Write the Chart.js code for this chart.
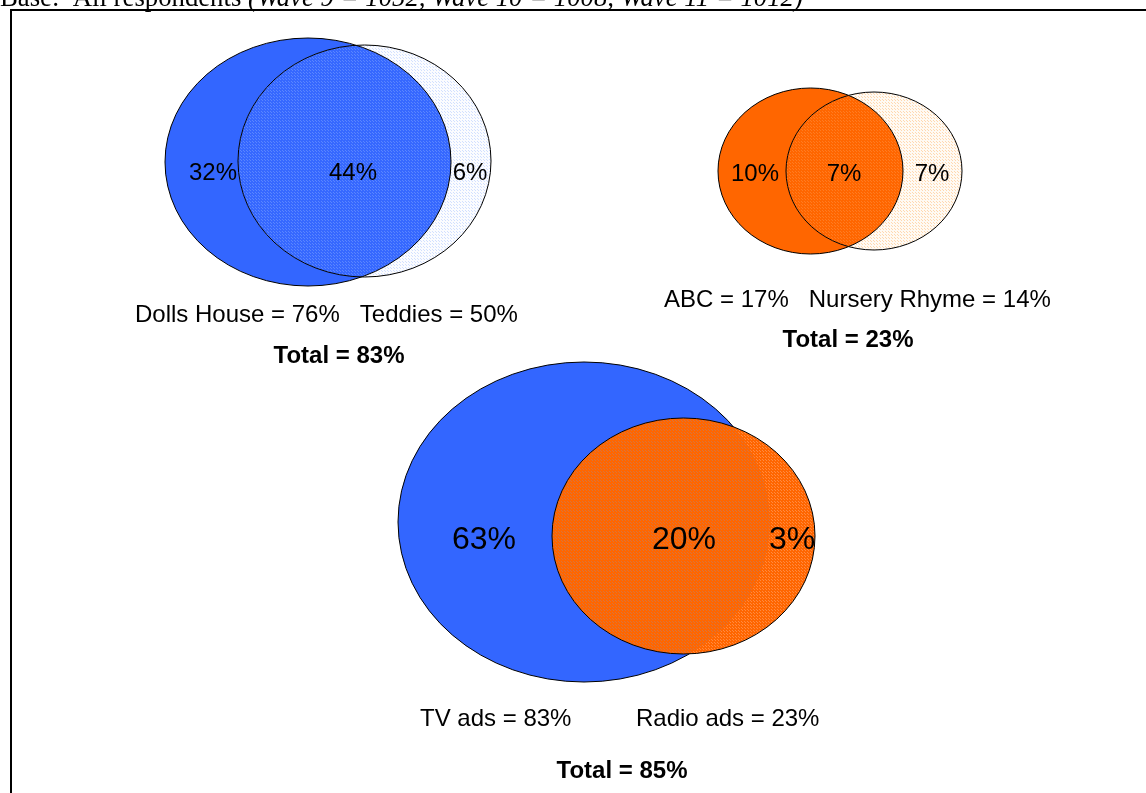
<!DOCTYPE html>
<html>
<head>
<meta charset="utf-8">
<script src="https://cdn.jsdelivr.net/npm/chart.js@4.4.1/dist/chart.umd.min.js"></script>
<style>
  html, body { margin: 0; padding: 0; background: #ffffff; }
  #wrap { position: relative; width: 1146px; height: 793px; }
  canvas { display: block; }
</style>
</head>
<body>
<div id="wrap"><canvas id="c" width="1146" height="793"></canvas></div>
<script>
// ---------------- DATA ----------------
const headerText = 'Base:  All respondents ';
const headerItalic = '(Wave 9 = 1052, Wave 10 = 1008, Wave 11 = 1012)';
const setNames = ['Dolls House', 'Teddies', 'ABC', 'Nursery Rhyme', 'TV ads', 'Radio ads'];
const setTotals = [76, 50, 17, 14, 83, 23];
// regions per diagram: [only A, A and B, only B]
const toysRegions = [32, 44, 6];
const songsRegions = [10, 7, 7];
const adsRegions = [63, 20, 3];
const groupTotals = [83, 23, 85];

// ---------------- LAYOUT (pixel-space scale units) ----------------
const ellipses = [
  { cx: 308, cy: 162, rx: 143, ry: 124 },
  { cx: 364.5, cy: 161, rx: 126.5, ry: 116 },
  { cx: 810.5, cy: 171, rx: 92.5, ry: 83 },
  { cx: 874, cy: 171, rx: 88, ry: 79 },
  { cx: 584, cy: 522, rx: 186, ry: 160 },
  { cx: 683.5, cy: 536, rx: 131.5, ry: 118 }
];
// style per diagram: A fill, B fill [base, dot], overlap [base, dot], whether A's edge shows through B
const diagramStyles = [
  { a: '#3366FF', b: ['#FBFCFF', '#D2E0FF'], ab: ['#3668FF', '#5A86FF'], edgeThrough: true },
  { a: '#FF6600', b: ['#FFFAF3', '#FFD8B0'], ab: ['#FF6600', '#FF7C22'], edgeThrough: true },
  { a: '#3366FF', b: ['#FF6600', '#FF8A40'], ab: ['#FF6600', '#D8743C'], edgeThrough: false }
];
const regionPos = [
  [[213, 173], [353, 173], [470, 173]],
  [[755, 174], [844, 174], [932, 174]],
  [[484, 540], [684, 540], [792, 540]]
];
const regionFont = [24, 24, 32];
const captionRows = [
  { sets: [0, 1], x: 135, y: 315 },
  { sets: [2, 3], x: 664, y: 300 },
  { sets: [4], x: 420, y: 719 },
  { sets: [5], x: 636, y: 719 }
];
const totalPos = [[339, 356], [848, 340], [622, 771]];

function pattern(ctx, base, dot) {
  const p = document.createElement('canvas');
  p.width = 3; p.height = 3;
  const g = p.getContext('2d');
  g.fillStyle = base; g.fillRect(0, 0, 3, 3);
  g.fillStyle = dot; g.fillRect(0, 0, 1, 1); g.fillRect(1, 1, 1, 1);
  return ctx.createPattern(p, 'repeat');
}

const vennPlugin = {
  id: 'venn',
  beforeDraw(chart) {
    const c = chart.ctx;
    c.save();
    c.fillStyle = '#ffffff';
    c.fillRect(0, 0, chart.width, chart.height);
    c.fillStyle = '#000';
    c.textBaseline = 'alphabetic';
    let size = 24;
    c.font = size + 'px "Liberation Serif"';
    const w1 = c.measureText(headerText).width;
    c.font = 'italic ' + size + 'px "Liberation Serif"';
    const w2 = c.measureText(headerItalic).width;
    size = size * 803 / (w1 + w2);
    c.font = size + 'px "Liberation Serif"';
    c.fillText(headerText, 0, 6);
    const ww = c.measureText(headerText).width;
    c.font = 'italic ' + size + 'px "Liberation Serif"';
    c.fillText(headerItalic, ww, 6);
    c.fillRect(10, 9, 1136, 2);
    c.fillRect(10, 9, 2, 784);
    c.restore();
  },
  afterDatasetsDraw(chart) {
    const c = chart.ctx;
    const xs = chart.scales.x, ys = chart.scales.y;
    const path = (i) => {
      const e = ellipses[i];
      const pt = chart.data.datasets[i].data[0];
      const px = xs.getPixelForValue(pt.x), py = ys.getPixelForValue(pt.y);
      const rx = Math.abs(xs.getPixelForValue(pt.x + e.rx) - px);
      const ry = Math.abs(ys.getPixelForValue(pt.y + e.ry) - py);
      c.beginPath();
      c.ellipse(px, py, rx, ry, 0, 0, Math.PI * 2);
    };
    c.save();
    c.lineWidth = 1;
    c.strokeStyle = '#000';
    diagramStyles.forEach((st, d) => {
      const A = d * 2, B = d * 2 + 1;
      path(A); c.fillStyle = st.a; c.fill(); c.stroke();
      path(B); c.fillStyle = pattern(c, st.b[0], st.b[1]); c.fill();
      c.save();
      path(B); c.clip();
      path(A); c.fillStyle = pattern(c, st.ab[0], st.ab[1]); c.fill();
      if (st.edgeThrough) c.stroke();
      c.restore();
      path(B); c.stroke();
    });
    c.fillStyle = '#000';
    c.textAlign = 'center';
    c.textBaseline = 'middle';
    [toysRegions, songsRegions, adsRegions].forEach((arr, g) => {
      c.font = regionFont[g] + 'px "Liberation Sans", Arial, sans-serif';
      arr.forEach((v, k) => {
        const p = regionPos[g][k];
        c.fillText(v + '%', xs.getPixelForValue(p[0]), ys.getPixelForValue(p[1]));
      });
    });
    c.textAlign = 'left';
    c.font = '24px "Liberation Sans", Arial, sans-serif';
    captionRows.forEach(row => {
      const txt = row.sets.map(k => setNames[k] + ' = ' + setTotals[k] + '%').join('   ');
      c.fillText(txt, xs.getPixelForValue(row.x), ys.getPixelForValue(row.y));
    });
    c.textAlign = 'center';
    c.font = 'bold 24px "Liberation Sans", Arial, sans-serif';
    groupTotals.forEach((t, k) => {
      const p = totalPos[k];
      c.fillText('Total = ' + t + '%', xs.getPixelForValue(p[0]), ys.getPixelForValue(p[1]));
    });
    c.restore();
  }
};

new Chart(document.getElementById('c').getContext('2d'), {
  type: 'scatter',
  data: {
    datasets: setNames.map((n, i) => ({
      label: n,
      data: [{ x: ellipses[i].cx, y: ellipses[i].cy }],
      pointRadius: 0,
      pointHoverRadius: 0
    }))
  },
  options: {
    responsive: false,
    animation: false,
    devicePixelRatio: 1,
    layout: { padding: 0 },
    plugins: { legend: { display: false }, tooltip: { enabled: false } },
    scales: {
      x: { type: 'linear', min: 0, max: 1146, display: false },
      y: { type: 'linear', min: 0, max: 793, reverse: true, display: false }
    }
  },
  plugins: [vennPlugin]
});
</script>
</body>
</html>
